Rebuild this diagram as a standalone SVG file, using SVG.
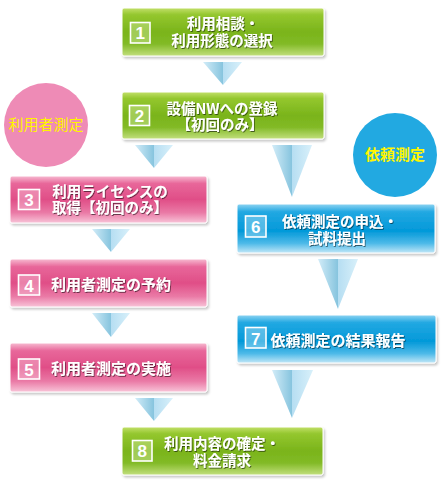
<svg xmlns="http://www.w3.org/2000/svg" width="443" height="488" viewBox="0 0 443 488">
<defs>
<linearGradient id="gG" x1="0" y1="0" x2="0" y2="1">
<stop offset="0" stop-color="#c3e06a"/><stop offset="0.14" stop-color="#94c72e"/><stop offset="0.5" stop-color="#7ab41b"/><stop offset="0.75" stop-color="#82ba26"/><stop offset="1" stop-color="#c2df7e"/>
</linearGradient>
<linearGradient id="gP" x1="0" y1="0" x2="0" y2="1">
<stop offset="0" stop-color="#f7bcd2"/><stop offset="0.16" stop-color="#e8679a"/><stop offset="0.5" stop-color="#e04e87"/><stop offset="0.78" stop-color="#ea7aa6"/><stop offset="1" stop-color="#f8c4d8"/>
</linearGradient>
<linearGradient id="gB" x1="0" y1="0" x2="0" y2="1">
<stop offset="0" stop-color="#8fd4f2"/><stop offset="0.16" stop-color="#22a8e2"/><stop offset="0.55" stop-color="#0399d9"/><stop offset="0.8" stop-color="#4cb9e8"/><stop offset="1" stop-color="#c2e7f7"/>
</linearGradient>
<linearGradient id="aL" x1="0" y1="0" x2="1" y2="0">
<stop offset="0" stop-color="#d2ecf8"/><stop offset="1" stop-color="#86c4de"/>
</linearGradient>
<linearGradient id="aR" x1="0" y1="0" x2="1" y2="0">
<stop offset="0" stop-color="#b6def2"/><stop offset="1" stop-color="#d8f0fa"/>
</linearGradient>
<filter id="sh" x="-5%" y="-10%" width="112%" height="130%">
<feDropShadow dx="1.5" dy="2" stdDeviation="1.2" flood-color="#000" flood-opacity="0.22"/>
</filter>
<filter id="ts" x="-5%" y="-20%" width="110%" height="150%">
<feDropShadow dx="0.8" dy="1" stdDeviation="0.6" flood-color="#000" flood-opacity="0.55"/>
</filter>
</defs>
<style>
.box{stroke:#fff;stroke-width:1;filter:url(#sh)}
.g{fill:url(#gG)}
.p{fill:url(#gP)}
.b{fill:url(#gB)}
.badge{stroke:#fff;stroke-width:1.6;fill-opacity:0.35}
.num{font-family:"Liberation Sans",Arial,sans-serif;font-weight:bold;font-size:17px;fill:#fff;text-anchor:middle}
.t{font-family:"Noto Sans CJK JP","Noto Sans",sans-serif;font-weight:bold;font-size:14.5px;fill:#fff;text-anchor:middle;filter:url(#ts)}
.t1{font-size:15px}
.ct{font-family:"Noto Sans CJK JP","Noto Sans",sans-serif;font-size:15px;fill:#fff500;text-anchor:middle}
</style>

<g id="circle-user">
<circle cx="46" cy="125" r="42" fill="#ee8bb6"/>
<text class="ct" x="46" y="130">利用者測定</text>
</g>
<g id="circle-request">
<circle cx="395" cy="155" r="42" fill="#22a9e1"/>
<text class="ct" x="395" y="160" font-weight="bold">依頼測定</text>
</g>

<g id="connectors">
<g id="a1"><polygon points="203,62 223,62 223,85" fill="url(#aL)"/><polygon points="223,62 242,62 223,85" fill="url(#aR)"/></g>
<g id="a2"><polygon points="135,145 154,145 154,168" fill="url(#aL)"/><polygon points="154,145 173,145 154,168" fill="url(#aR)"/></g>
<g id="a3"><polygon points="92,229 111,229 111,252" fill="url(#aL)"/><polygon points="111,229 130,229 111,252" fill="url(#aR)"/></g>
<g id="a4"><polygon points="92,313 111,313 111,337" fill="url(#aL)"/><polygon points="111,313 130,313 111,337" fill="url(#aR)"/></g>
<g id="a5"><polygon points="135,398 154,398 154,421" fill="url(#aL)"/><polygon points="154,398 173,398 154,421" fill="url(#aR)"/></g>
<g id="a26"><polygon points="272,145 292,145 292,197" fill="url(#aL)"/><polygon points="292,145 312,145 292,197" fill="url(#aR)"/></g>
<g id="a67"><polygon points="318,259 338,259 338,309" fill="url(#aL)"/><polygon points="338,259 358,259 338,309" fill="url(#aR)"/></g>
<g id="a78"><polygon points="272,370 292,370 292,418" fill="url(#aL)"/><polygon points="292,370 313,370 292,418" fill="url(#aR)"/></g>
</g>

<g id="n1">
<rect class="box g" x="122" y="8" width="202" height="48" rx="2"/>
<rect class="badge" x="130.5" y="22.5" width="19.5" height="20.5" fill="#e8f5c0"/>
<text class="num" x="140.3" y="39">1</text>
<text class="t"><tspan x="223" y="28.5">利用相談・</tspan><tspan x="222" y="45.5">利用形態の選択</tspan></text>
</g>
<g id="n2">
<rect class="box g" x="122" y="92" width="202" height="47" rx="2"/>
<rect class="badge" x="129.5" y="105.5" width="20" height="20" fill="#e8f5c0"/>
<text class="num" x="139.5" y="122">2</text>
<text class="t"><tspan x="222" y="113.5">設備NWへの登録</tspan><tspan x="220" y="130">【初回のみ】</tspan></text>
</g>
<g id="n3">
<rect class="box p" x="10" y="176" width="197" height="47" rx="2"/>
<rect class="badge" x="18.5" y="189.5" width="21" height="20" fill="#fde0ec"/>
<text class="num" x="29" y="206">3</text>
<text class="t"><tspan x="110" y="196.5">利用ライセンスの</tspan><tspan x="110" y="213">取得【初回のみ】</tspan></text>
</g>
<g id="n4">
<rect class="box p" x="10" y="259" width="197" height="48" rx="2"/>
<rect class="badge" x="18.5" y="275" width="21" height="20" fill="#fde0ec"/>
<text class="num" x="29" y="291.5">4</text>
<text class="t t1" x="111" y="290">利用者測定の予約</text>
</g>
<g id="n5">
<rect class="box p" x="10" y="343" width="197" height="49" rx="2"/>
<rect class="badge" x="18.5" y="359" width="21" height="20" fill="#fde0ec"/>
<text class="num" x="29" y="375.5">5</text>
<text class="t t1" x="111" y="374">利用者測定の実施</text>
</g>
<g id="n6">
<rect class="box b" x="237" y="204" width="198" height="49" rx="2"/>
<rect class="badge" x="245.5" y="216" width="20.5" height="21" fill="#d6f0fb"/>
<text class="num" x="255.8" y="233">6</text>
<text class="t"><tspan x="340" y="226.5">依頼測定の申込・</tspan><tspan x="337" y="243.5">試料提出</tspan></text>
</g>
<g id="n7">
<rect class="box b" x="237" y="315" width="199" height="48" rx="2"/>
<rect class="badge" x="245.5" y="327.5" width="20.5" height="20.5" fill="#d6f0fb"/>
<text class="num" x="255.8" y="344.5">7</text>
<text class="t t1" x="338" y="346">依頼測定の結果報告</text>
</g>
<g id="n8">
<rect class="box g" x="122" y="427" width="201" height="48" rx="2"/>
<rect class="badge" x="132.5" y="440.5" width="19.5" height="20.5" fill="#e8f5c0"/>
<text class="num" x="142.3" y="457">8</text>
<text class="t"><tspan x="222" y="448.5">利用内容の確定・</tspan><tspan x="222" y="465.5">料金請求</tspan></text>
</g>
</svg>
